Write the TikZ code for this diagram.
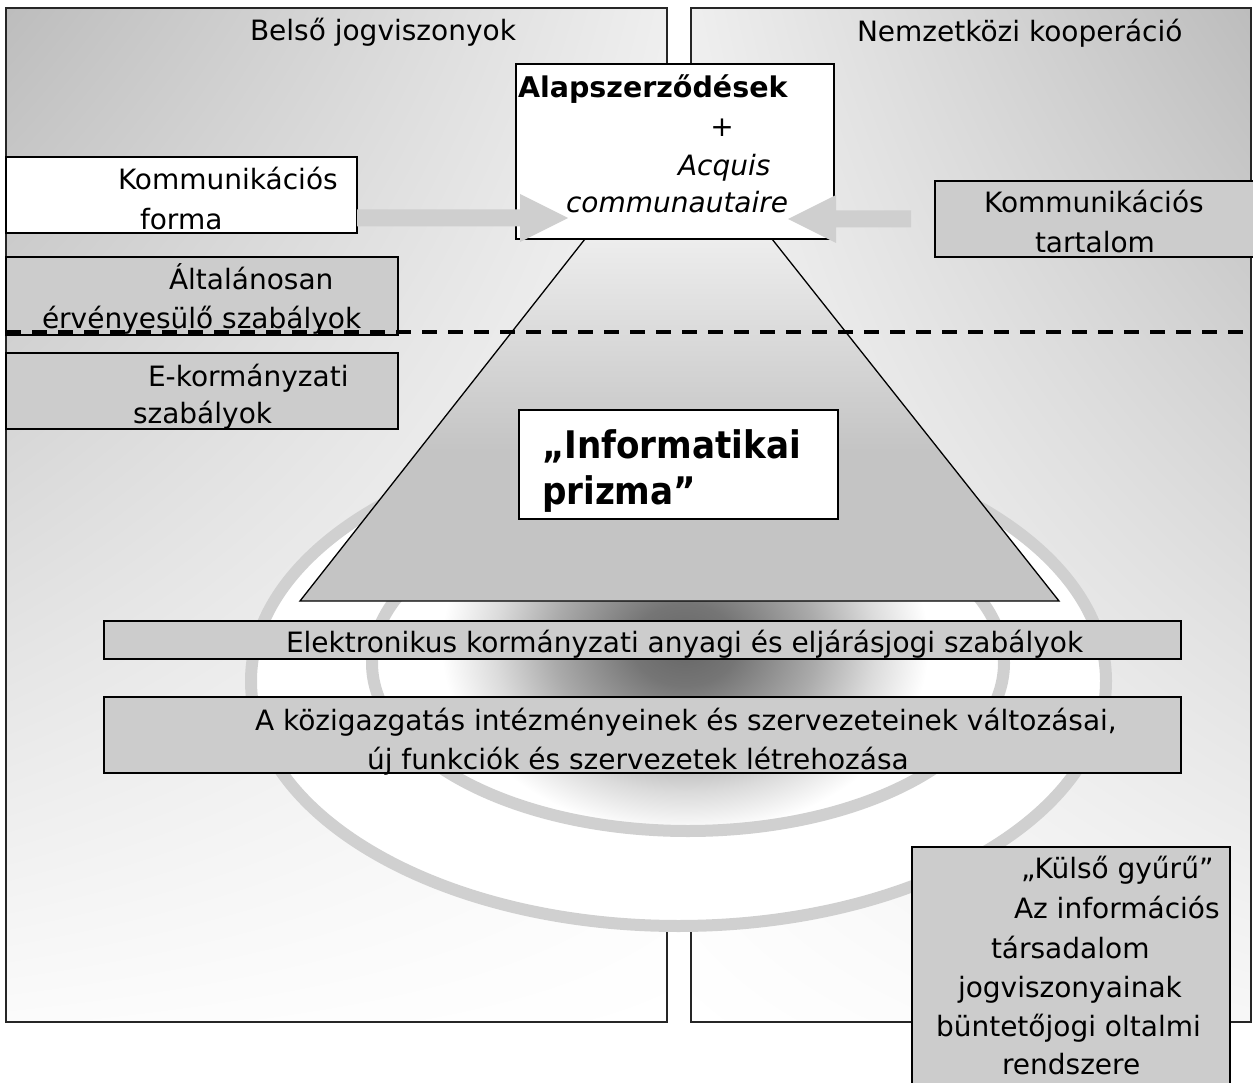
\documentclass[tikz,border=0pt]{standalone}
\usepackage{fontspec}
\setmainfont{DejaVu Sans}
\newfontfamily\prizmafont{DejaVu Sans}[FakeStretch=0.9]
\usetikzlibrary{calc,shadings}
\definecolor{boxgray}{gray}{0.80}
\definecolor{arrowgray}{gray}{0.81}
\definecolor{ringgray}{gray}{0.815}
\definecolor{pnlA}{gray}{0.74}
\definecolor{pnlB}{gray}{0.935}
\definecolor{pnlC}{gray}{0.985}
\definecolor{pnlD}{gray}{0.97}
\definecolor{trapdark}{gray}{0.77}
\definecolor{traplight}{gray}{0.93}
\definecolor{blobA}{gray}{0.40}
\definecolor{blobB}{gray}{0.46}
\definecolor{blobC}{gray}{0.67}
\definecolor{blobD}{gray}{0.86}
\pgfdeclareverticalshading{trapshade}{100bp}{color(0bp)=(trapdark); color(46bp)=(trapdark); color(75bp)=(traplight); color(100bp)=(traplight)}
\pgfdeclareradialshading{blobshade}{\pgfpoint{0bp}{0bp}}{color(0bp)=(blobA); color(5bp)=(blobB); color(12.5bp)=(blobC); color(18bp)=(blobD); color(23bp)=(white); color(50bp)=(white)}
\tikzset{
  panelframe/.style={line width=1.4pt, draw=black!85},
  whitebox/.style={draw=black, line width=1.5pt, fill=white, inner sep=0pt, outer sep=0pt, anchor=north west},
  graybox/.style={whitebox, fill=boxgray},
  txt/.style={inner sep=0pt, outer sep=0pt, anchor=base west, font=\fontsize{28}{34}\selectfont},
  txtb/.style={txt, font=\fontsize{28.5}{34}\selectfont\bfseries},
  txti/.style={txt, font=\fontsize{28}{34}\selectfont\itshape},
  txtp/.style={txt, font=\fontsize{38}{46}\selectfont\prizmafont\bfseries},
  ring/.style={draw=ringgray, line width=12pt},
  dashline/.style={draw=black, line width=3.5pt, dash pattern=on 15pt off 11pt},
  trapline/.style={draw=black, line width=1.3pt}
}
\newcommand\myblockarrow[3]{%
  \fill[arrowgray] ($(#1)+(0,-8.5)$) -- ($(#2)+(-48*#3,-8.5)$) -- ($(#2)+(-48*#3,-24)$) -- (#2)
    -- ($(#2)+(-48*#3,24)$) -- ($(#2)+(-48*#3,8.5)$) -- ($(#1)+(0,8.5)$) -- cycle;}
\begin{document}
\begin{tikzpicture}[x=1pt,y=-1pt]
\useasboundingbox (0,0) rectangle (1253,1083);
\clip (0,0) rectangle (1253,1083);
% panels
\shade[upper left=pnlA, upper right=pnlB, lower left=pnlC, lower right=white] (6,8) rectangle (667,1022);
\draw[panelframe] (6,8) rectangle (667,1022);
\shade[upper left=pnlB, upper right=pnlA, lower left=white, lower right=pnlD] (691,8) rectangle (1251,1022);
\draw[panelframe] (691,8) rectangle (1251,1022);
% ellipse area
\fill[white] (678.5,681) ellipse [x radius=433pt, y radius=251pt];
\begin{scope}
  \clip (688,663) ellipse [x radius=316pt, y radius=168pt];
  \shade[shading=blobshade] (685,645) ellipse [x radius=265pt, y radius=205pt];
\end{scope}
\draw[ring] (678.5,681) ellipse [x radius=427.5pt, y radius=245pt];
\draw[ring] (688,663) ellipse [x radius=316pt, y radius=168pt];
% prism
\shade[shading=trapshade] (585,239) -- (300,601) -- (1059,601) -- (772,239) -- cycle;
\draw[trapline] (585,239) -- (300,601) -- (1059,601) -- (772,239) -- cycle;
% boxes
\node[whitebox, minimum width=351pt, minimum height=76pt] (forma) at (6,157) {};
\node[graybox, minimum width=392pt, minimum height=78pt] (altal) at (6,257) {};
\node[graybox, minimum width=392pt, minimum height=76pt] (ekorm) at (6,353) {};
\node[graybox, minimum width=325pt, minimum height=76pt] (tartalom) at (935,181) {};
\node[whitebox, minimum width=319pt, minimum height=109pt] (prizma) at (519,410) {};
\node[graybox, minimum width=1077pt, minimum height=38pt] (elektr) at (104,621) {};
\node[graybox, minimum width=1077pt, minimum height=76pt] (kozig) at (104,697) {};
\node[graybox, minimum width=318pt, minimum height=242pt] (kulso) at (912,847) {};
% dashed border line
\coordinate (dashL) at (6,332);
\coordinate (dashR) at (1253,332);
\draw[dashline] (dashL) -- (dashR);
% central box
\node[whitebox, minimum width=318pt, minimum height=175pt] (alap) at (516,64) {};
% arrows
\coordinate (arrLs) at ($(forma.south east)+(0,-15)$);
\coordinate (arrLt) at (568,218);
\coordinate (arrRs) at ($(tartalom.west)+(-24,0)$);
\coordinate (arrRt) at (788,219);
\myblockarrow{arrLs}{arrLt}{1}
\myblockarrow{arrRs}{arrRt}{-1}
% texts
\node[txt] (tbelso) at (250,41) {Belső jogviszonyok};
\node[txt] (tnemz) at (857,42) {Nemzetközi kooperáció};
\node[txtb] (talap) at (518,98) {Alapszerződések};
\node[txt, anchor=base] (tplus) at (722,137) {+};
\node[txti] (tacq) at (678,176) {Acquis};
\node[txti] (tcomm) at (566,213) {communautaire};
\node[txt] (tkf1) at (118,190) {Kommunikációs};
\node[txt] (tkf2) at (140,230) {forma};
\node[txt] (tkt1) at (984,213) {Kommunikációs};
\node[txt] (tkt2) at (1035,253) {tartalom};
\node[txt] (tal1) at (169,290) {Általánosan};
\node[txt] (tal2) at (42,328) {érvényesülő szabályok};
\node[txt] (tek1) at (148,386) {E-kormányzati};
\node[txt] (tek2) at (133,423) {szabályok};
\node[txtp] (tip1) at (542,458) {„Informatikai};
\node[txtp] (tip2) at (542,504) {prizma”};
\node[txt] (tel) at (286,652) {Elektronikus kormányzati anyagi és eljárásjogi szabályok};
\node[txt] (tkz1) at (255,730) {A közigazgatás intézményeinek és szervezeteinek változásai,};
\node[txt] (tkz2) at (367,769) {új funkciók és szervezetek létrehozása};
\node[txt] (tku1) at (1021,878) {„Külső gyűrű”};
\node[txt] (tku2) at (1014,918) {Az információs};
\node[txt] (tku3) at (991,958) {társadalom};
\node[txt] (tku4) at (958,997) {jogviszonyainak};
\node[txt] (tku5) at (936,1036) {büntetőjogi oltalmi};
\node[txt] (tku6) at (1002,1074) {rendszere};
\end{tikzpicture}
\end{document}
